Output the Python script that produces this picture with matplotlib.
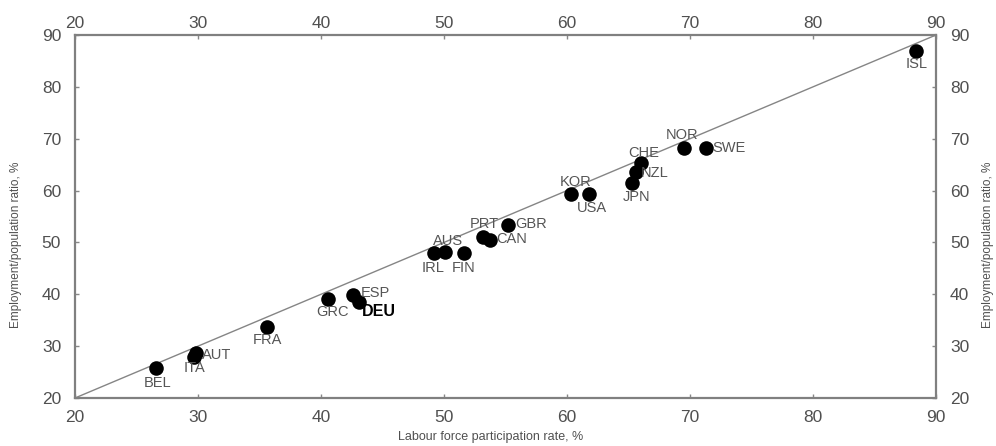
import matplotlib
matplotlib.use("Agg")
from matplotlib import pyplot as plt
from matplotlib import transforms

plt.rcParams['font.family'] = ['Liberation Sans', 'DejaVu Sans']

# country codes and values
countries = ['ISL', 'NOR', 'SWE', 'CHE', 'NZL', 'JPN', 'KOR', 'USA', 'GBR', 'PRT', 'CAN',
             'AUS', 'IRL', 'FIN', 'BEL', 'ITA', 'AUT', 'FRA', 'GRC', 'ESP', 'DEU']
participation = [88.4, 69.5, 71.3, 66.0, 65.6, 65.3, 60.3, 61.8, 55.2, 53.2, 53.7,
                 50.1, 49.2, 51.6, 26.6, 29.7, 29.8, 35.6, 40.6, 42.6, 43.1]
employment = [86.9, 68.2, 68.2, 65.3, 63.5, 61.4, 59.4, 59.4, 53.3, 51.1, 50.4,
              48.2, 48.0, 47.9, 25.7, 27.9, 28.6, 33.7, 39.0, 39.8, 38.6]
ticks = [20, 30, 40, 50, 60, 70, 80, 90]

# label centre offsets from the marker, in pixels (dx, dy up)
label_offsets = {
    'ISL': (0, -13), 'NOR': (-2, 13), 'SWE': (23, 0), 'CHE': (3, 10), 'NZL': (19, -1),
    'JPN': (4, -14), 'KOR': (5, 12), 'USA': (3, -14), 'GBR': (23, 1), 'PRT': (1, 13),
    'CAN': (22, 1), 'AUS': (3, 11), 'IRL': (-1, -15), 'FIN': (0, -15), 'BEL': (1, -15),
    'ITA': (0, -11), 'AUT': (21, -2), 'FRA': (1, -13), 'GRC': (4, -13), 'ESP': (22, 2),
    'DEU': (20, -10),
}

fig = plt.figure(figsize=(9.96, 4.46), dpi=100)
ax = fig.add_axes([75/996, 1-398/446, (936-75)/996, (398-35)/446])

ax.plot([20, 90], [20, 90], color='#858585', lw=1.0, zorder=1)
ax.scatter(participation, employment, s=110, color='black', zorder=3, linewidths=0)

px = 0.72
for c, x, y in zip(countries, participation, employment):
    dx, dy = label_offsets[c]
    if c == 'DEU':
        ax.annotate(c, (x, y), xytext=(dx*px, dy*px), textcoords='offset points',
                    ha='center', va='center', fontsize=11.5, fontweight='bold', color='black')
    else:
        ax.annotate(c, (x, y), xytext=(dx*px, dy*px), textcoords='offset points',
                    ha='center', va='center', fontsize=10.5, color='#555555')

ax.set_xlim(20, 90)
ax.set_ylim(20, 90)
ax.set_xticks(ticks)
ax.set_yticks(ticks)
ax.tick_params(direction='in', length=3, width=1, color='#888888', labelsize=12.5,
               labelcolor='#505050', top=True, right=True, labeltop=True, labelright=True)
ax.tick_params(axis='x', which='both', pad=9)
ax.tick_params(axis='y', which='both', pad=10)
# top labels sit closer to the frame than the bottom ones
shift = transforms.ScaledTranslation(0, -6/72, fig.dpi_scale_trans)
for t in ax.xaxis.get_major_ticks():
    t.label2.set_transform(t.label2.get_transform() + shift)
for sp in ax.spines.values():
    sp.set_color('#808080')
    sp.set_linewidth(1.6)

fig.text(491/996, 1-437/446, 'Labour force participation rate, %', ha='center', va='center',
         fontsize=9, color='#505050')
fig.text(16/996, 1-245/446, 'Employment/population ratio, %', rotation=90, ha='center',
         va='center', fontsize=8.5, color='#505050')
fig.text(988/996, 1-245/446, 'Employment/population ratio, %', rotation=90, ha='center',
         va='center', fontsize=8.5, color='#505050')

fig.savefig('out.png', dpi=100)
